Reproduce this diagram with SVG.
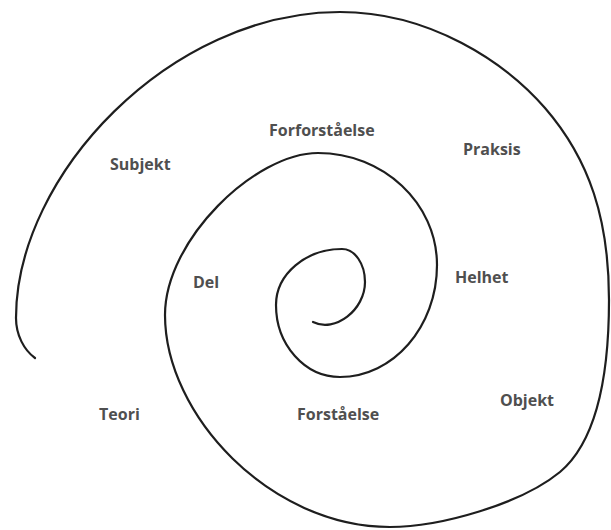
<svg xmlns="http://www.w3.org/2000/svg" width="611" height="530" viewBox="0 0 611 530">
<style>
.lbl{font-family:"Open Sans","Liberation Sans",sans-serif;font-weight:700;font-size:16px;fill:#4f4f4f}
.sp{fill:none;stroke:#1e1e1e;stroke-width:2.2;stroke-linecap:round;stroke-linejoin:round}
</style>
<rect width="611" height="530" fill="#ffffff"/>
<g id="connectors">
<path id="spiral" class="sp" d="M313,322 C335,333 365,310 365,282 C365,264 355,249 342,249 C306,249 276,274 276,305 C276,345 305,377 340,377 C393,377 437,327 437,265 C437,203 383,153 318,153 C255,153 165,240 165,315 C165,415 270,527 390,527 C440,527 521,504 560,472 C598,440 609,370 609,300 C609,220 590,160 545,108 C505,62 430,12 340,12 C170,12 16,175 16,318 C16,335 24,350 35,358"/>
</g>
<g id="n-forforstaelse"><text class="lbl" x="269" y="136">Forforståelse</text></g>
<g id="n-subjekt"><text class="lbl" x="110" y="170">Subjekt</text></g>
<g id="n-praksis"><text class="lbl" x="463" y="155">Praksis</text></g>
<g id="n-del"><text class="lbl" x="193" y="288">Del</text></g>
<g id="n-helhet"><text class="lbl" x="455" y="283">Helhet</text></g>
<g id="n-teori"><text class="lbl" x="99" y="420">Teori</text></g>
<g id="n-forstaelse"><text class="lbl" x="297" y="420">Forståelse</text></g>
<g id="n-objekt"><text class="lbl" x="500" y="406">Objekt</text></g>
</svg>
